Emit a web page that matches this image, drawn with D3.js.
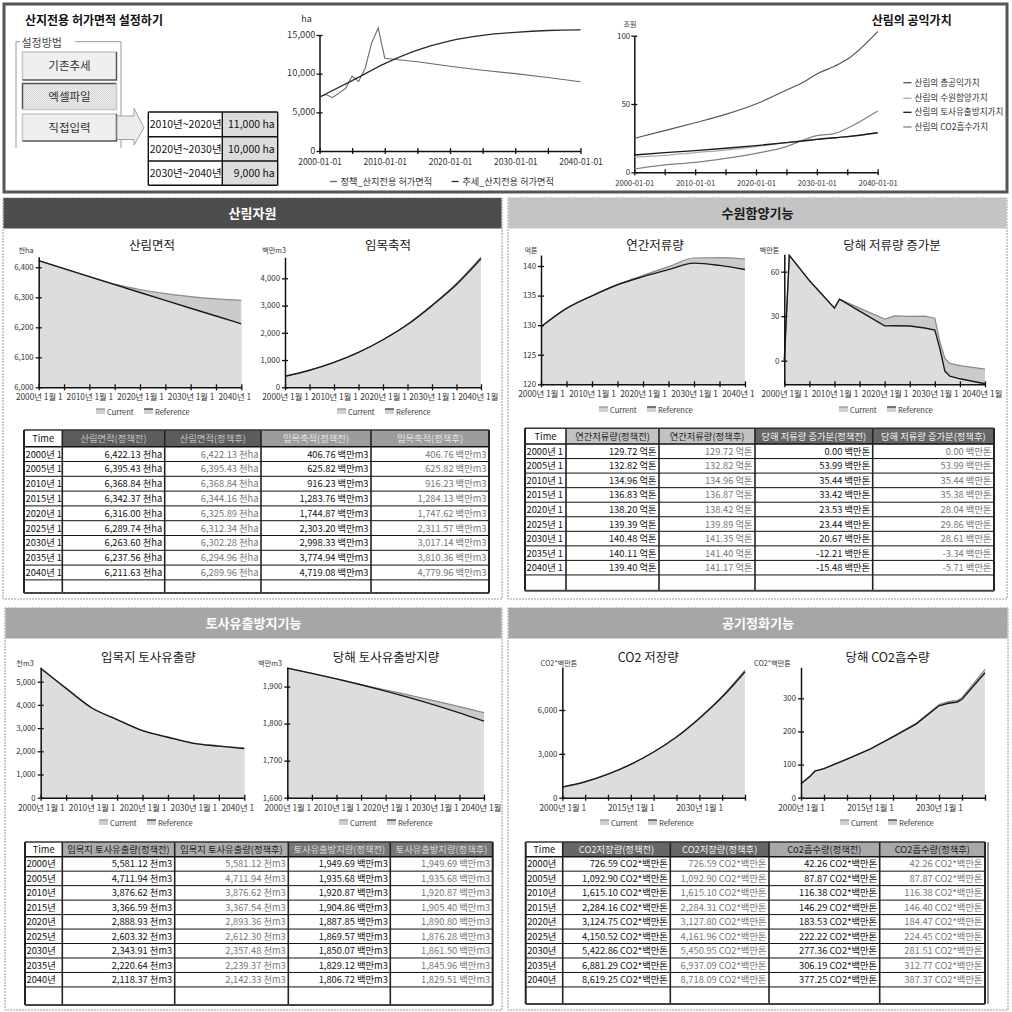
<!DOCTYPE html>
<html>
<head>
<meta charset="utf-8">
<script src="https://cdn.jsdelivr.net/npm/d3@7"></script>
<style>
body { margin: 0; background: #fff; }
svg { display: block; font-family: "Noto Sans CJK KR", "Noto Sans", sans-serif; }
</style>
</head>
<body>
<div id="dash"></div>
<script>
// ---------- data ----------
var years5 = [2000, 2005, 2010, 2015, 2020, 2025, 2030, 2035, 2040];

// 산지전용 허가면적 설정 (직접입력)
var permitPeriods = ["2010년~2020년", "2020년~2030년", "2030년~2040년"];
var permitAreas = [11000, 10000, 9000];

// 정책 / 추세 산지전용 허가면적 (ha)
var policyYears = [2000, 2001, 2002, 2004, 2005, 2006, 2007, 2008, 2009, 2010, 2011, 2015, 2020, 2025, 2030, 2035, 2040];
var policyPermit = [6970, 7300, 6900, 8100, 9700, 9000, 10700, 14000, 15900, 12000, 11900, 11550, 10950, 10450, 10000, 9500, 8950];
var trendYears = [2000, 2005, 2010, 2015, 2020, 2025, 2030, 2035, 2040];
var trendPermit = [6970, 9100, 11300, 13050, 14250, 14950, 15350, 15580, 15650];

// 산림의 공익가치 (조원)
var valueYears = [2000, 2005, 2010, 2015, 2020, 2025, 2028, 2030, 2033, 2035, 2040];
var valueTotal = [24.9, 30.5, 36.3, 42.4, 50.0, 60.2, 66.5, 72.0, 77.8, 82.7, 103.0];
var valueWater = [11.0, 12.4, 14.4, 16.3, 18.8, 21.7, 23.1, 24.1, 25.2, 26.0, 29.0];
var valueSoil = [12.7, 14.4, 15.9, 17.6, 19.5, 21.7, 23.1, 24.1, 25.3, 26.1, 29.0];
var valueCo2 = [2.4, 5.4, 7.3, 10.2, 13.9, 18.8, 24.0, 26.8, 28.5, 32.2, 44.9];
var valueNames = ["산림의 총공익가치", "산림의 수원함양가치", "산림의 토사유출방지가치", "산림의 CO2흡수가치"];

// 산림자원
var forestBefore = [6422.13, 6395.43, 6368.84, 6342.37, 6316.00, 6289.74, 6263.60, 6237.56, 6211.63];
var forestAfter = [6422.13, 6395.43, 6368.84, 6344.16, 6325.89, 6312.34, 6302.28, 6294.96, 6289.96];
var stockBefore = [406.76, 625.82, 916.23, 1283.76, 1744.87, 2303.20, 2998.33, 3774.94, 4719.08];
var stockAfter = [406.76, 625.82, 916.23, 1284.13, 1747.62, 2311.57, 3017.14, 3810.36, 4779.96];

// 수원함양기능
var storageBefore = [129.72, 132.82, 134.96, 136.83, 138.20, 139.39, 140.48, 140.11, 139.40];
var storageAfter = [129.72, 132.82, 134.96, 136.87, 138.42, 139.89, 141.35, 141.40, 141.17];
var storageIncBefore = [0.00, 53.99, 35.44, 33.42, 23.53, 23.44, 20.67, -12.21, -15.48];
var storageIncAfter = [0.00, 53.99, 35.44, 35.38, 28.04, 29.86, 28.61, -3.34, -5.71];
// chart line for 당해 저류량 증가분 (finer than the table)
var incYears = [2000, 2001, 2005, 2010, 2011, 2015, 2020, 2022, 2025, 2028, 2030, 2031, 2032, 2033, 2035, 2040];
var incRef = [0, 71, 54, 35.4, 41.5, 33.4, 23.5, 23.6, 23.4, 22, 20.7, 8.3, -7, -10.4, -12.2, -15.5];
var incCur = [0, 71, 54, 35.4, 41.5, 35.4, 28.0, 30.2, 29.9, 30, 28.6, 13, 1.6, -1.8, -3.3, -5.7];

// 토사유출방지기능
var soilLossBefore = [5581.12, 4711.94, 3876.62, 3366.59, 2888.93, 2603.32, 2343.91, 2220.64, 2118.37];
var soilLossAfter = [5581.12, 4711.94, 3876.62, 3367.54, 2893.36, 2612.30, 2357.48, 2239.37, 2142.33];
var soilPrevBefore = [1949.69, 1935.68, 1920.87, 1904.86, 1887.85, 1869.57, 1850.07, 1829.12, 1806.72];
var soilPrevAfter = [1949.69, 1935.68, 1920.87, 1905.40, 1890.80, 1876.28, 1861.50, 1845.96, 1829.51];

// 공기정화기능
var co2StockBefore = [726.59, 1092.90, 1615.10, 2284.16, 3124.75, 4150.52, 5422.86, 6881.29, 8619.25];
var co2StockAfter = [726.59, 1092.90, 1615.10, 2284.31, 3127.80, 4161.96, 5450.95, 6937.09, 8718.09];
var co2AbsBefore = [42.26, 87.87, 116.38, 146.29, 183.53, 222.22, 277.36, 306.19, 377.25];
var co2AbsAfter = [42.26, 87.87, 116.38, 146.40, 184.47, 224.45, 281.51, 312.77, 387.37];
// chart line for 당해 CO2흡수량
var absYears = [2000, 2002, 2003, 2005, 2010, 2015, 2020, 2025, 2030, 2032, 2034, 2035, 2040];
var absRef = [42.26, 65, 80, 87.87, 116.38, 146.29, 183.53, 222.22, 277.36, 285, 289, 297, 377.25];
var absCur = [42.26, 65, 80, 87.87, 116.38, 146.40, 184.47, 224.45, 281.51, 290, 294, 302, 387.37];

var timeCut = years5.map(function (y) { return y + "년 1"; });
var timeYear = years5.map(function (y) { return y + "년"; });

// ---------- svg ----------
var svg = d3.select("#dash").append("svg")
  .attr("width", 1012)
  .attr("height", 1012);

// plain hyphen for negatives, like the source tool
var loc = d3.formatLocale({ decimal: ".", thousands: ",", grouping: [3], currency: ["", ""], minus: "-" });
var fmt2 = loc.format(",.2f");
var fmtInt = loc.format(",");

function txt(g, x, y, s, size, opts) {
  opts = opts || {};
  return g.append("text")
    .attr("x", x).attr("y", y)
    .attr("font-size", size)
    .attr("fill", opts.fill || "#222")
    .attr("font-weight", opts.bold ? "bold" : null)
    .attr("text-anchor", opts.anchor || "start")
    .text(s);
}

// crossing ticks like the original tool
function styleAxis(ga, isX, size) {
  ga.attr("font-family", null).attr("font-size", size);
  ga.select(".domain").attr("stroke", "#111").attr("stroke-width", 1.5);
  if (isX) ga.selectAll(".tick line").attr("y1", -3).attr("y2", 3).attr("stroke", "#111").attr("stroke-width", 1.3);
  else ga.selectAll(".tick line").attr("x1", -3).attr("x2", 3).attr("stroke", "#111").attr("stroke-width", 1.3);
  ga.selectAll(".tick text").attr("fill", "#333");
}

// ---------- top box ----------
svg.append("rect")
  .attr("x", 4).attr("y", 4).attr("width", 1003).attr("height", 188)
  .attr("fill", "#fff").attr("stroke", "#555").attr("stroke-width", 3);

txt(svg, 25, 25, "산지전용 허가면적 설정하기", 12, { bold: true, fill: "#111" });

// fieldset
svg.append("path")
  .attr("d", "M16,148 V41.7 H20 M75,41.7 H121 V148")
  .attr("fill", "none").attr("stroke", "#999").attr("stroke-width", 1);
txt(svg, 21.5, 46.5, "설정방법", 11, { fill: "#444" });

var dots = svg.append("defs").append("pattern")
  .attr("id", "dots").attr("width", 2).attr("height", 2).attr("patternUnits", "userSpaceOnUse");
dots.append("rect").attr("width", 2).attr("height", 2).attr("fill", "#eeeeee");
dots.append("rect").attr("width", 1).attr("height", 1).attr("fill", "#d6d6d6");
dots.append("rect").attr("x", 1).attr("y", 1).attr("width", 1).attr("height", 1).attr("fill", "#d6d6d6");

var buttons = [
  { label: "기존추세", y0: 52, y1: 80, pressed: false },
  { label: "엑셀파일", y0: 83.5, y1: 109.5, pressed: true },
  { label: "직접입력", y0: 114, y1: 141, pressed: false }
];
buttons.forEach(function (b) {
  var x0 = 22.5, x1 = 116.5;
  svg.append("rect").attr("x", x0).attr("y", b.y0).attr("width", x1 - x0).attr("height", b.y1 - b.y0)
    .attr("fill", b.pressed ? "url(#dots)" : "#efefef");
  var dark = "#555", light = "#c8c8c8";
  svg.append("path").attr("d", "M" + x0 + "," + b.y1 + " V" + b.y0 + " H" + x1)
    .attr("fill", "none").attr("stroke", b.pressed ? dark : light).attr("stroke-width", 1.5);
  svg.append("path").attr("d", "M" + x1 + "," + b.y0 + " V" + b.y1 + " H" + x0)
    .attr("fill", "none").attr("stroke", b.pressed ? light : dark).attr("stroke-width", 1.5);
  txt(svg, 69.5, (b.y0 + b.y1) / 2 + 4, b.label, 11.5, { anchor: "middle", fill: "#333" });
});

// block arrow
svg.append("path")
  .attr("d", "M117,116 H134 V108.3 L144,127.7 L134,145 V139.5 H117 Z")
  .attr("fill", "#ececec").attr("stroke", "#a0a0a0").attr("stroke-width", 1);

// small input table
var ptX = [148.3, 222.3, 277.7];
var ptRows = [112, 136.7, 161, 185.3];
svg.selectAll("rect.pcell").data(permitAreas).enter().append("rect")
  .attr("class", "pcell")
  .attr("x", ptX[1]).attr("y", function (d, i) { return ptRows[i]; })
  .attr("width", ptX[2] - ptX[1]).attr("height", function (d, i) { return ptRows[i + 1] - ptRows[i]; })
  .attr("fill", "#dcdcdc");
svg.selectAll("text.pper").data(permitPeriods).enter().append("text")
  .attr("class", "pper")
  .attr("x", ptX[0] + 1.5).attr("y", function (d, i) { return (ptRows[i] + ptRows[i + 1]) / 2 + 4; })
  .attr("font-size", 10.5).attr("fill", "#111")
  .text(function (d) { return d; });
svg.selectAll("text.parea").data(permitAreas).enter().append("text")
  .attr("class", "parea")
  .attr("x", ptX[2] - 3).attr("y", function (d, i) { return (ptRows[i] + ptRows[i + 1]) / 2 + 4; })
  .attr("text-anchor", "end").attr("font-size", 10.5).attr("fill", "#111")
  .text(function (d) { return fmtInt(d) + " ha"; });
ptRows.forEach(function (y) {
  svg.append("line").attr("x1", ptX[0]).attr("x2", ptX[2]).attr("y1", y).attr("y2", y)
    .attr("stroke", "#111").attr("stroke-width", 1.4);
});
ptX.forEach(function (x) {
  svg.append("line").attr("x1", x).attr("x2", x).attr("y1", ptRows[0]).attr("y2", ptRows[3])
    .attr("stroke", "#111").attr("stroke-width", 1.4);
});

// ---------- 허가면적 line chart ----------
(function () {
  var x = d3.scaleLinear().domain([2000, 2040]).range([319.5, 580.5]);
  var y = d3.scaleLinear().domain([0, 15000]).range([151, 35]);
  var g = svg.append("g");
  txt(g, 306.5, 22, "ha", 9, { anchor: "middle", fill: "#333" });

  var ya = g.append("g").attr("transform", "translate(319.5,0)")
    .call(d3.axisLeft(y).tickValues([0, 5000, 10000, 15000]).tickSize(3).tickSizeOuter(0).tickFormat(fmtInt));
  styleAxis(ya, false, 9.3);
  ya.selectAll(".tick text").attr("x", -4).attr("dy", "0.25em");
  var xa = g.append("g").attr("transform", "translate(0,151)")
    .call(d3.axisBottom(x).tickValues(years5).tickSize(3).tickSizeOuter(0)
      .tickFormat(function (d) { return d % 10 === 0 ? d + "-01-01" : ""; }));
  styleAxis(xa, true, 8.5);
  xa.selectAll(".tick text").attr("y", 14).attr("dy", 0);

  var line = d3.line().x(function (d) { return x(d[0]); }).y(function (d) { return y(d[1]); });
  g.append("path").datum(policyYears.map(function (yr, i) { return [yr, policyPermit[i]]; }))
    .attr("d", line).attr("fill", "none").attr("stroke", "#6a6a6a").attr("stroke-width", 1.1);
  g.append("path").datum(trendYears.map(function (yr, i) { return [yr, trendPermit[i]]; }))
    .attr("d", line.curve(d3.curveMonotoneX)).attr("fill", "none").attr("stroke", "#2a2a2a").attr("stroke-width", 1.3);

  var leg = [["정책_산지전용 허가면적", "#6a6a6a", 330], ["추세_산지전용 허가면적", "#2a2a2a", 451.7]];
  leg.forEach(function (l) {
    g.append("line").attr("x1", l[2]).attr("x2", l[2] + 7).attr("y1", 181.5).attr("y2", 181.5)
      .attr("stroke", l[1]).attr("stroke-width", 1.3);
    txt(g, l[2] + 10.5, 185, l[0], 9.2, { fill: "#333" });
  });
})();

// ---------- 산림의 공익가치 ----------
(function () {
  var x = d3.scaleLinear().domain([2000, 2040]).range([634.3, 877.7]);
  var y = d3.scaleLinear().domain([0, 100]).range([172.3, 35.7]);
  var g = svg.append("g");
  txt(g, 911.7, 25, "산림의 공익가치", 12, { anchor: "middle", bold: true, fill: "#111" });
  txt(g, 630, 27, "조원", 7, { anchor: "middle", fill: "#444" });

  var ya = g.append("g").attr("transform", "translate(634.3,0)")
    .call(d3.axisLeft(y).tickValues([0, 50, 100]).tickSize(3).tickSizeOuter(0));
  styleAxis(ya, false, 8);
  ya.selectAll(".tick text").attr("x", -4).attr("dy", "0.3em");
  var xa = g.append("g").attr("transform", "translate(0,172.3)")
    .call(d3.axisBottom(x).tickValues(years5).tickSize(3).tickSizeOuter(0)
      .tickFormat(function (d) { return d % 10 === 0 ? d + "-01-01" : ""; }));
  styleAxis(xa, true, 7.6);
  xa.selectAll(".tick text").attr("y", 13.5).attr("dy", 0);

  var line = d3.line().x(function (d) { return x(d[0]); }).y(function (d) { return y(d[1]); })
    .curve(d3.curveMonotoneX);
  var series = [
    [valueTotal, "#555555", 1.2],
    [valueWater, "#aaaaaa", 1.2],
    [valueCo2, "#808080", 1.2],
    [valueSoil, "#1a1a1a", 1.4]
  ];
  series.forEach(function (s) {
    g.append("path").datum(valueYears.map(function (yr, i) { return [yr, s[0][i]]; }))
      .attr("d", line).attr("fill", "none").attr("stroke", s[1]).attr("stroke-width", s[2]);
  });
  var legCol = ["#555555", "#aaaaaa", "#1a1a1a", "#808080"];
  var legY = [82.7, 98.3, 112.3, 127];
  valueNames.forEach(function (n, i) {
    g.append("line").attr("x1", 903.3).attr("x2", 911.5).attr("y1", legY[i]).attr("y2", legY[i])
      .attr("stroke", legCol[i]).attr("stroke-width", 1.3);
    txt(g, 914.5, legY[i] + 3, n, 8.6, { fill: "#333" });
  });
})();

// ---------- panels ----------
var panels = [
  { x: 3, y: 198, w: 499, h: 401, title: "산림자원", fill: "#4d4d4d", color: "#fff" },
  { x: 508, y: 198, w: 499, h: 401, title: "수원함양기능", fill: "#c4c4c4", color: "#1a1a1a" },
  { x: 5, y: 608, w: 497, h: 402, title: "토사유출방지기능", fill: "#a6a6a6", color: "#fff" },
  { x: 508, y: 608, w: 500, h: 402, title: "공기정화기능", fill: "#a6a6a6", color: "#fff" }
];
panels.forEach(function (p) {
  svg.append("rect").attr("x", p.x).attr("y", p.y).attr("width", p.w).attr("height", p.h)
    .attr("fill", "#fff").attr("stroke", "#9a9a9a").attr("stroke-width", 1).attr("stroke-dasharray", "2,1");
  svg.append("rect").attr("x", p.x + 0.5).attr("y", p.y).attr("width", p.w - 1).attr("height", 30.5)
    .attr("fill", p.fill);
  txt(svg, p.x + p.w / 2, p.y + 20, p.title, 13, { anchor: "middle", bold: true, fill: p.color });
});

function drawChart(c) {
  var g = svg.append("g");
  var x = d3.scaleLinear().domain([2000, 2040]).range([c.left, c.right]);
  var y = d3.scaleLinear().domain(c.yDomain).range([c.bottom, c.top]);
  var curve = c.linear ? d3.curveLinear : d3.curveMonotoneX;
  var pts = function (vals) { return c.years.map(function (yr, i) { return [yr, vals[i]]; }); };
  var area = d3.area().x(function (d) { return x(d[0]); }).y0(c.bottom).y1(function (d) { return y(d[1]); })
    .curve(curve);
  var line = d3.line().x(function (d) { return x(d[0]); }).y(function (d) { return y(d[1]); })
    .curve(curve);

  g.append("path").datum(pts(c.cur)).attr("d", area).attr("fill", "#cbcbcb");
  g.append("path").datum(pts(c.ref)).attr("d", area).attr("fill", "#dddddd");
  g.append("path").datum(pts(c.cur)).attr("d", line).attr("fill", "none").attr("stroke", "#8a8a8a").attr("stroke-width", 1.2);
  g.append("path").datum(pts(c.ref)).attr("d", line).attr("fill", "none").attr("stroke", "#1a1a1a").attr("stroke-width", 1.4);

  txt(g, c.titleX, c.titleY, c.title, 12.5, { anchor: "middle", fill: "#1a1a1a" });
  txt(g, c.unitX, c.unitY, c.unit, 7.2, { anchor: "middle", fill: "#333" });

  var ya = g.append("g").attr("transform", "translate(" + c.left + ",0)")
    .call(d3.axisLeft(y).tickValues(c.yTicks).tickSize(3).tickSizeOuter(0).tickFormat(fmtInt));
  styleAxis(ya, false, 7.8);
  ya.selectAll(".tick text").attr("x", -5).attr("dy", "0.3em");

  var xa = g.append("g").attr("transform", "translate(0," + c.bottom + ")")
    .call(d3.axisBottom(x).tickValues(years5).tickSize(3).tickSizeOuter(0)
      .tickFormat(function (d) { return c.labels.indexOf(d) >= 0 ? d + "년 1월 1" : ""; }));
  styleAxis(xa, true, 8.3);
  xa.selectAll(".tick text").attr("y", c.labelDy).attr("dy", 0);

  // labels running past the chart's edge are cut short, as in the original
  xa.selectAll(".tick text").each(function (d) {
    var el = d3.select(this);
    var w = this.getComputedTextLength();
    if (!w) return;
    var startX = x(d) - w / 2;
    if (startX + w > c.clipRight) {
      el.attr("text-anchor", "start").attr("x", -w / 2);
      var s = el.text();
      while (s.length > 1 && startX + this.getComputedTextLength() > c.clipRight) {
        s = s.slice(0, -1);
        el.text(s);
      }
    }
  });

  // legend
  var lx = c.legendX, ly = c.legendY;
  [["Current", "#a0a0a0", lx - 44], ["Reference", "#505050", lx + 4]].forEach(function (l) {
    g.append("rect").attr("x", l[2]).attr("y", ly - 6).attr("width", 9).attr("height", 5).attr("fill", "#cfcfcf");
    g.append("line").attr("x1", l[2]).attr("x2", l[2] + 9).attr("y1", ly - 6).attr("y2", ly - 6)
      .attr("stroke", l[1]).attr("stroke-width", 1.5);
    txt(g, l[2] + 11, ly, l[0], 7.5, { fill: "#333" });
  });
}

var decLabels = [2000, 2010, 2020, 2030, 2040];
var co2Labels = [2000, 2015, 2030];

drawChart({ left: 38.7, right: 241.3, top: 256.7, bottom: 387.3, yDomain: [6000, 6435.3], yTicks: [6000, 6100, 6200, 6300, 6400],
  years: years5, cur: forestAfter, ref: forestBefore, labels: decLabels, clipRight: 253, labelDy: 13,
  title: "산림면적", titleX: 152, titleY: 250, unit: "천ha", unitX: 26, unitY: 253, legendX: 140, legendY: 415 });
drawChart({ left: 285, right: 481, top: 257.3, bottom: 387.3, yDomain: [0, 4771], yTicks: [0, 1000, 2000, 3000, 4000],
  years: years5, cur: stockAfter, ref: stockBefore, labels: decLabels, clipRight: 503, labelDy: 13,
  title: "임목축적", titleX: 388, titleY: 250, unit: "백만m3", unitX: 274, unitY: 253, legendX: 381, legendY: 415 });
drawChart({ left: 541, right: 745, top: 255, bottom: 384.3, yDomain: [120, 141.86], yTicks: [120, 125, 130, 135, 140],
  years: years5, cur: storageAfter, ref: storageBefore, labels: decLabels, clipRight: 757, labelDy: 13,
  title: "연간저류량", titleX: 655, titleY: 250, unit: "억톤", unitX: 531, unitY: 252.5, legendX: 643, legendY: 413 });
drawChart({ left: 784.3, right: 985, top: 254.3, bottom: 384.3, yDomain: [-15.9, 71.7], yTicks: [0, 30, 60],
  years: incYears, cur: incCur, ref: incRef, labels: decLabels, clipRight: 1007, labelDy: 13, linear: true,
  title: "당해 저류량 증가분", titleX: 892, titleY: 250, unit: "백만톤", unitX: 769.5, unitY: 252.5, legendX: 883, legendY: 413 });
drawChart({ left: 40.7, right: 244.3, top: 667.3, bottom: 797.7, yDomain: [0, 5620], yTicks: [0, 1000, 2000, 3000, 4000, 5000],
  years: years5, cur: soilLossAfter, ref: soilLossBefore, labels: decLabels, clipRight: 256, labelDy: 13.5,
  title: "입목지 토사유출량", titleX: 148.3, titleY: 661.7, unit: "천m3", unitX: 25, unitY: 665.5, legendX: 143, legendY: 826 });
drawChart({ left: 287.3, right: 484, top: 667.3, bottom: 797.7, yDomain: [1600, 1952], yTicks: [1600, 1700, 1800, 1900],
  years: years5, cur: soilPrevAfter, ref: soilPrevBefore, labels: decLabels, clipRight: 503, labelDy: 13.5,
  title: "당해 토사유출방지량", titleX: 386, titleY: 661.7, unit: "백만m3", unitX: 270, unitY: 665.5, legendX: 383, legendY: 826 });
drawChart({ left: 562.3, right: 745, top: 667.3, bottom: 797.7, yDomain: [0, 8920], yTicks: [0, 3000, 6000],
  years: years5, cur: co2StockAfter, ref: co2StockBefore, labels: co2Labels, clipRight: 1006, labelDy: 13.5,
  title: "CO2 저장량", titleX: 648.3, titleY: 661.7, unit: "CO2*백만톤", unitX: 559, unitY: 665.5, legendX: 644, legendY: 826 });
drawChart({ left: 801, right: 985, top: 667.3, bottom: 797.7, yDomain: [0, 393.6], yTicks: [0, 100, 200, 300],
  years: absYears, cur: absCur, ref: absRef, labels: co2Labels, clipRight: 1006, labelDy: 13.5, linear: true,
  title: "당해 CO2흡수량", titleX: 887.5, titleY: 661.7, unit: "CO2*백만톤", unitX: 772.5, unitY: 665.5, legendX: 884, legendY: 826 });

// ---------- tables ----------
function drawTable(t) {
  var g = svg.append("g");
  var cols = t.cols;
  var bodyTop = t.top + t.headerH;
  var rowY = function (i) { return bodyTop + i * t.rowH; };

  g.append("rect").attr("x", cols[0]).attr("y", t.top).attr("width", cols[5] - cols[0]).attr("height", t.bottom - t.top)
    .attr("fill", "#fff");
  g.selectAll("rect.hd").data(t.headers).enter().append("rect")
    .attr("x", function (d, i) { return cols[i]; }).attr("y", t.top)
    .attr("width", function (d, i) { return cols[i + 1] - cols[i]; }).attr("height", t.headerH)
    .attr("fill", function (d, i) { return t.headFill[i]; });
  g.selectAll("text.hd").data(t.headers).enter().append("text")
    .attr("x", function (d, i) { return (cols[i] + cols[i + 1]) / 2; })
    .attr("y", t.top + t.headerH / 2 + 3.5)
    .attr("text-anchor", "middle").attr("font-size", 9.3)
    .attr("fill", function (d, i) { return t.headColor[i]; })
    .text(function (d) { return d; });

  var rows = g.selectAll("g.row").data(t.times).enter().append("g")
    .attr("transform", function (d, i) { return "translate(0," + (rowY(i) + t.rowH / 2 + 3.5) + ")"; });
  rows.append("text").attr("x", cols[0] + 1.5).attr("font-size", 9.3).attr("fill", "#111")
    .text(function (d) { return d; });
  t.series.forEach(function (s, j) {
    rows.append("text")
      .attr("x", cols[j + 2] - 2.5).attr("text-anchor", "end").attr("font-size", 9.3)
      .attr("fill", j % 2 === 0 ? "#111" : "#777")
      .text(function (d, i) { return fmt2(s[i]) + " " + t.units[j]; });
  });

  for (var i = 0; i <= t.times.length; i++) {
    g.append("line").attr("x1", cols[0]).attr("x2", cols[5]).attr("y1", rowY(i)).attr("y2", rowY(i))
      .attr("stroke", "#111").attr("stroke-width", i === 0 ? 1.4 : 1);
  }
  cols.forEach(function (cx, k) {
    g.append("line").attr("x1", cx).attr("x2", cx).attr("y1", t.top).attr("y2", t.bottom)
      .attr("stroke", "#222").attr("stroke-width", k === 0 || k === 5 ? 2 : 1.6);
  });
  g.append("line").attr("x1", cols[0]).attr("x2", cols[5]).attr("y1", t.top).attr("y2", t.top)
    .attr("stroke", "#333").attr("stroke-width", 1.5);
  g.append("line").attr("x1", cols[0]).attr("x2", cols[5]).attr("y1", t.bottom).attr("y2", t.bottom)
    .attr("stroke", "#444").attr("stroke-width", 2);
  if (t.extraEdge) {
    g.append("line").attr("x1", t.extraEdge).attr("x2", t.extraEdge).attr("y1", t.top).attr("y2", t.bottom)
      .attr("stroke", "#555").attr("stroke-width", 1.2);
  }
}

drawTable({ cols: [24, 62.3, 164.7, 261, 371, 489], top: 430, headerH: 16.7, rowH: 14.8, bottom: 593,
  headers: ["Time", "산림면적(정책전)", "산림면적(정책후)", "임목축적(정책전)", "임목축적(정책후)"],
  headFill: ["#fff", "#5c5c5c", "#5c5c5c", "#9c9c9c", "#9c9c9c"],
  headColor: ["#111", "#c4c4c4", "#c4c4c4", "#e6e6e6", "#e6e6e6"],
  times: timeCut, series: [forestBefore, forestAfter, stockBefore, stockAfter],
  units: ["천ha", "천ha", "백만m3", "백만m3"] });
drawTable({ cols: [525, 566, 659, 755, 872.7, 994], top: 428.3, headerH: 15.7, rowH: 14.55, bottom: 590.7,
  headers: ["Time", "연간저류량(정책전)", "연간저류량(정책후)", "당해 저류량 증가분(정책전)", "당해 저류량 증가분(정책후)"],
  headFill: ["#fff", "#c2c2c2", "#c2c2c2", "#666666", "#666666"],
  headColor: ["#111", "#222", "#222", "#f2f2f2", "#f2f2f2"],
  times: timeCut, series: [storageBefore, storageAfter, storageIncBefore, storageIncAfter],
  units: ["억톤", "억톤", "백만톤", "백만톤"] });
drawTable({ cols: [25, 62.3, 174.7, 288.3, 390.3, 492.7], top: 842, headerH: 14.7, rowH: 14.47, bottom: 1005,
  headers: ["Time", "입목지 토사유출량(정책전)", "입목지 토사유출량(정책후)", "토사유출방지량(정책전)", "토사유출방지량(정책후)"],
  headFill: ["#fff", "#ababab", "#ababab", "#777777", "#777777"],
  headColor: ["#111", "#1a1a1a", "#1a1a1a", "#d8d8d8", "#d8d8d8"],
  times: timeYear, series: [soilLossBefore, soilLossAfter, soilPrevBefore, soilPrevAfter],
  units: ["천m3", "천m3", "백만m3", "백만m3"] });
drawTable({ cols: [525.7, 562.7, 670.3, 769, 879.7, 985], top: 842, headerH: 14.7, rowH: 14.47, bottom: 1004, extraEdge: 988,
  headers: ["Time", "CO2저장량(정책전)", "CO2저장량(정책후)", "Co2흡수량(정책전)", "CO2흡수량(정책후)"],
  headFill: ["#fff", "#666666", "#666666", "#a8a8a8", "#a8a8a8"],
  headColor: ["#111", "#f2f2f2", "#f2f2f2", "#1a1a1a", "#1a1a1a"],
  times: timeYear, series: [co2StockBefore, co2StockAfter, co2AbsBefore, co2AbsAfter],
  units: ["CO2*백만톤", "CO2*백만톤", "CO2*백만톤", "CO2*백만톤"] });
</script>
</body>
</html>
